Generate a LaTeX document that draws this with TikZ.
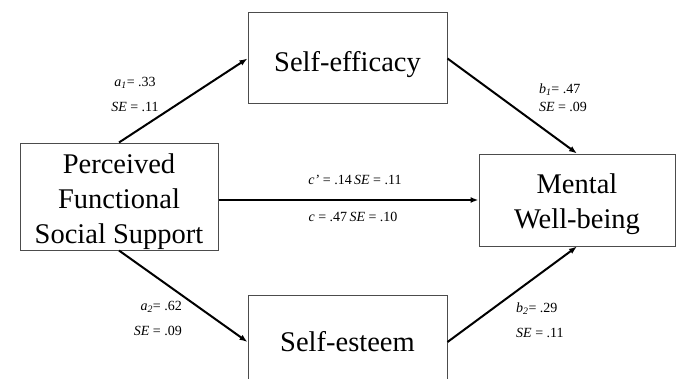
\documentclass[tikz,border=0pt]{standalone}
\usepackage{fontspec}
\setmainfont{Liberation Serif}
\usetikzlibrary{arrows.meta}
\tikzset{>={Latex[length=8pt,width=6pt]}}
\tikzset{
  var/.style={draw=black!70,line width=1pt,align=center,
    font=\fontsize{28.5}{35}\selectfont,inner sep=0pt},
  path label/.style={font=\fontsize{14}{25}\selectfont,inner sep=0pt},
  path/.style={->,line width=2pt}
}
\newcommand{\coef}[3]{\textit{#1}\textsubscript{\textit{#2}}= #3}
\newcommand{\SE}[1]{\textit{SE} = #1}

\begin{document}
\begin{tikzpicture}[x=1pt,y=1pt]
  \useasboundingbox (0,0) rectangle (676,378);
  \clip (0,0) rectangle (676,378);
  % variables
  \node[var,minimum width=198,minimum height=107,text height=99.5] (support) at (119,181.5)
    {Perceived\\Functional\\Social Support};
  \node[var,minimum width=199,minimum height=91,text height=31.5] (efficacy) at (347.5,319.5) {Self-efficacy};
  \node[var,minimum width=196,minimum height=92,text height=63.5] (wellbeing) at (577,178) {Mental\\Well-being};
  \node[var,minimum width=199,minimum height=94] (esteem) at (347.5,36) {Self-esteem};
  % paths
  \draw[path] (support.north) -- (efficacy.west);
  \draw[path] (efficacy.east) -- (wellbeing.north);
  \draw[path] (wellbeing.west -| support.east) -- (wellbeing.west);
  \draw[path] (support.south) -- (esteem.west);
  \draw[path] (esteem.east) -- (wellbeing.south);
  % coefficients
  \node[path label,align=center] (a1) at (135,283.5) {\coef{a}{1}{.33}\\\SE{.11}};
  \node[path label,align=left,font=\fontsize{14}{18}\selectfont] (b1) at (563,280) {\coef{b}{1}{.47}\\\SE{.09}};
  \node[path label,align=right,anchor=east] (a2) at (182,60) {\coef{a}{2}{.62}\\\SE{.09}};
  \node[path label,align=left,anchor=west] (b2) at (516,57.5) {\coef{b}{2}{.29}\\\SE{.11}};
  \node[path label] (cprime) at (355,198) {\textit{c'} = .14\,\SE{.11}};
  \node[path label] (ctotal) at (353,161) {\textit{c} = .47\,\SE{.10}};
\end{tikzpicture}
\end{document}
